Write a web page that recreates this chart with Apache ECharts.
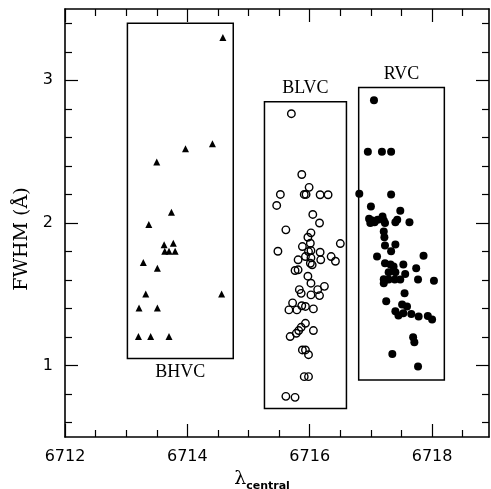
<!DOCTYPE html>
<html><head><meta charset="utf-8">
<script src="https://cdn.jsdelivr.net/npm/echarts@6/dist/echarts.min.js"></script>
<style>html,body{margin:0;padding:0;background:#fff}#c{width:491px;height:489px}</style>
</head><body><div id="c"></div>
<script>
// ---- data ----
const bhvcX = [6714.58, 6714.41, 6713.97, 6713.50, 6713.74, 6713.37, 6713.62, 6713.77, 6713.63, 6713.70,
               6713.80, 6713.28, 6713.51, 6713.32, 6714.56, 6713.21, 6713.51, 6713.20, 6713.40, 6713.70];
const bhvcY = [3.30, 2.556, 2.52, 2.427, 2.076, 1.99, 1.847, 1.858, 1.802, 1.802,
               1.802, 1.723, 1.683, 1.503, 1.503, 1.405, 1.405, 1.204, 1.204, 1.204];

const blvcX = [6715.70, 6715.87, 6715.99, 6715.52, 6715.91, 6715.94, 6716.17, 6716.30, 6715.46, 6716.05,
               6716.16, 6715.61, 6716.02, 6715.97, 6716.01, 6716.50, 6715.88, 6715.48, 6715.98, 6716.02,
               6716.17, 6715.93, 6716.35, 6716.02, 6715.81, 6716.18, 6716.42, 6716.01, 6716.04, 6715.81,
               6715.76, 6715.97, 6716.02, 6716.24, 6715.83, 6715.86, 6716.13, 6716.02, 6716.16, 6715.72,
               6715.66, 6715.79, 6715.87, 6715.93, 6716.06, 6715.93, 6716.06, 6715.86, 6715.82, 6715.78,
               6715.68, 6715.88, 6715.93, 6715.98, 6715.91, 6715.98, 6715.61, 6715.76];
const blvcY = [2.766, 2.34, 2.25, 2.20, 2.20, 2.20, 2.198, 2.198, 2.123, 2.06,
               2.00, 1.952, 1.931, 1.90, 1.858, 1.856, 1.835, 1.802, 1.80, 1.807,
               1.795, 1.765, 1.765, 1.756, 1.742, 1.742, 1.732, 1.718, 1.707, 1.672,
               1.667, 1.627, 1.578, 1.556, 1.533, 1.507, 1.533, 1.496, 1.491, 1.44,
               1.391, 1.391, 1.42, 1.415, 1.398, 1.297, 1.246, 1.269, 1.246, 1.227,
               1.204, 1.11, 1.11, 1.077, 0.923, 0.923, 0.785, 0.778];

const rvcX = [6717.05, 6716.95, 6717.18, 6717.33, 6716.81, 6717.33, 6717.00, 6717.48,
              6716.97, 6717.02, 6716.99, 6717.06, 6717.11, 6717.19, 6717.21, 6717.23,
              6717.40, 6717.43, 6717.63, 6717.21, 6717.22, 6717.23, 6717.40, 6717.33,
              6717.10, 6717.86, 6717.23, 6717.32, 6717.37, 6717.53, 6717.74,
              6717.29, 6717.40, 6717.56, 6717.21, 6717.29, 6717.39, 6717.48, 6717.77, 6718.03, 6717.21,
              6717.55, 6717.25, 6717.51, 6717.59, 6717.40, 6717.45, 6717.53, 6717.66, 6717.78, 6717.93, 6718.00,
              6717.69, 6717.71, 6717.35, 6717.77];
const rvcY = [2.86, 2.50, 2.50, 2.50, 2.205, 2.20, 2.116, 2.086,
              2.03, 2.018, 2.00, 2.006, 2.022, 2.046, 2.018, 2.00,
              2.006, 2.022, 2.006, 1.94, 1.90, 1.842, 1.849, 1.802,
              1.765, 1.77, 1.718, 1.709, 1.695, 1.709, 1.683,
              1.655, 1.655, 1.643, 1.605, 1.604, 1.604, 1.604, 1.604, 1.596, 1.578,
              1.507, 1.451, 1.428, 1.414, 1.381, 1.351, 1.367, 1.363, 1.344, 1.349, 1.323,
              1.199, 1.164, 1.082, 0.995];

const boxNames = ['BHVC', 'BLVC', 'RVC'];
const boxX0 = [6713.02, 6715.26, 6716.80];
const boxX1 = [6714.75, 6716.60, 6718.20];
const boxY0 = [1.05, 0.70, 0.90];
const boxY1 = [3.40, 2.85, 2.95];

const xMin = 6712, xMax = 6718.93;
const yMin = 0.5, yMax = 3.5;
const xMajorTicks = [6712, 6714, 6716, 6718];
const xMinorTicks = [6712.5, 6713, 6713.5, 6714.5, 6715, 6715.5, 6716.5, 6717, 6717.5, 6718.5];
const yMajorTicks = [1, 2, 3];
const yMinorTicks = [0.6, 0.8, 1.2, 1.4, 1.6, 1.8, 2.2, 2.4, 2.6, 2.8, 3.2, 3.4];

// ---- chart ----
const zip = (a, b) => a.map((v, i) => [v, b[i]]);
const BLACK = '#000';
const tickFont = {color: BLACK, fontFamily: 'DejaVu Sans', fontSize: 16};

function ax(pos, min, max, ticks, len, labels, line, margin) {
  return {
    type: 'value', position: pos, min: min, max: max,
    axisLine: {show: line, onZero: false, lineStyle: {color: BLACK, width: 1.6}},
    axisTick: {show: true, inside: true, length: len, customValues: ticks,
               lineStyle: {color: BLACK, width: 1.2}},
    axisLabel: {show: labels, margin: margin || 12, customValues: ticks, ...tickFont,
                formatter: v => String(v)},
    splitLine: {show: false}
  };
}

const xAxes = [ax('bottom', xMin, xMax, xMajorTicks, 13, true, true, 12),
               ax('bottom', xMin, xMax, xMinorTicks, 7, false, false),
               ax('top', xMin, xMax, xMajorTicks, 13, false, true),
               ax('top', xMin, xMax, xMinorTicks, 7, false, false)];
xAxes[0].name = '{l|λ}{s|central}';
xAxes[0].nameLocation = 'middle';
xAxes[0].nameGap = 21;
xAxes[0].nameTextStyle = {padding: [0, 30, 0, 0], rich: {
  l: {fontFamily: 'DejaVu Serif', fontSize: 19, color: BLACK},
  s: {fontFamily: 'DejaVu Sans', fontSize: 11, fontWeight: 'bold', color: BLACK, padding: [14, 0, 0, 0]}
}};
const yAxes = [ax('left', yMin, yMax, yMajorTicks, 13, true, true, 12),
               ax('left', yMin, yMax, yMinorTicks, 7, false, false),
               ax('right', yMin, yMax, yMajorTicks, 13, false, true),
               ax('right', yMin, yMax, yMinorTicks, 7, false, false)];
yAxes[0].name = 'FWHM (Å)';
yAxes[0].nameLocation = 'middle';
yAxes[0].nameGap = 16;
yAxes[0].nameTextStyle = {fontFamily: 'DejaVu Serif', fontSize: 19, color: BLACK, padding: [0, 32, 0, 0]};

const chart = echarts.init(document.getElementById('c'), null, {renderer: 'canvas'});
chart.setOption({
  animation: false,
  backgroundColor: '#fff',
  grid: {left: 65, right: 2, top: 9, bottom: 52, containLabel: false, outerBoundsMode: 'none'},
  xAxis: xAxes,
  yAxis: yAxes,
  series: [
    {
      type: 'custom', xAxisIndex: 0, yAxisIndex: 0,
      data: boxNames.map((n, i) => [boxX0[i], boxX1[i], boxY0[i], boxY1[i]]),
      encode: {x: [0, 1], y: [2, 3]},
      renderItem: function (params, api) {
        const i = params.dataIndex;
        const p0 = api.coord([api.value(0), api.value(3)]);
        const p1 = api.coord([api.value(1), api.value(2)]);
        const below = i === 0;
        return {type: 'group', children: [
          {type: 'rect', shape: {x: p0[0], y: p0[1], width: p1[0] - p0[0], height: p1[1] - p0[1]},
           style: {fill: null, stroke: BLACK, lineWidth: 1.5}},
          {type: 'text', style: {text: boxNames[i], x: (p0[0] + p1[0]) / 2,
            y: below ? p1[1] + 5 : p0[1] - 4, align: 'center',
            verticalAlign: below ? 'top' : 'bottom',
            font: '18px "Liberation Serif"', fill: BLACK}}
        ]};
      }
    },
    {type: 'scatter', name: 'BHVC', data: zip(bhvcX, bhvcY), symbol: 'triangle', symbolSize: 7,
     itemStyle: {color: BLACK, opacity: 1}},
    {type: 'scatter', name: 'BLVC', data: zip(blvcX, blvcY), symbol: 'circle', symbolSize: 7.5,
     itemStyle: {color: 'rgba(0,0,0,0)', borderColor: BLACK, borderWidth: 1.4, opacity: 1}},
    {type: 'scatter', name: 'RVC', data: zip(rvcX, rvcY), symbol: 'circle', symbolSize: 8,
     itemStyle: {color: BLACK, opacity: 1}}
  ]
});
</script>
</body></html>
